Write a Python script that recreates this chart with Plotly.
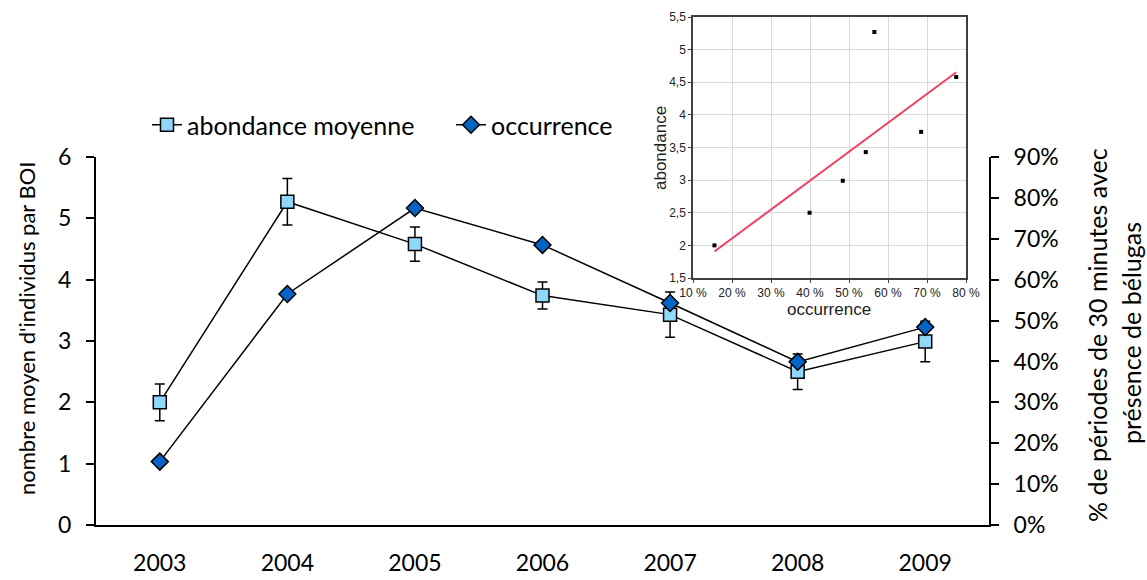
import numpy as np
import plotly.graph_objects as go

# ---- data -------------------------------------------------------------
years = [2003, 2004, 2005, 2006, 2007, 2008, 2009]
year_labels = [str(y) for y in years]
abondance = [2.00, 5.27, 4.58, 3.74, 3.43, 2.50, 2.99]          # nombre moyen d'individus par BOI
abondance_err = [0.30, 0.38, 0.28, 0.22, 0.37, 0.29, 0.33]
occurrence = [0.155, 0.565, 0.775, 0.685, 0.543, 0.399, 0.484]  # fraction of 30-min periods

left_ticks = [0, 1, 2, 3, 4, 5, 6]
right_ticks = [0.0, 0.1, 0.2, 0.3, 0.4, 0.5, 0.6, 0.7, 0.8, 0.9]
right_tick_labels = ["0%", "10%", "20%", "30%", "40%", "50%", "60%", "70%", "80%", "90%"]

inset_x_ticks = [10, 20, 30, 40, 50, 60, 70, 80]
inset_x_labels = ["10 %", "20 %", "30 %", "40 %", "50 %", "60 %", "70 %", "80 %"]
inset_y_ticks = [1.5, 2, 2.5, 3, 3.5, 4, 4.5, 5, 5.5]
inset_y_labels = ["1,5", "2", "2,5", "3", "3,5", "4", "4,5", "5", "5,5"]

# ---- layout geometry --------------------------------------------------
W, H = 1147, 580
def px_x(v):
    return v / W
def px_y(v):
    return (H - v) / H

main_xdom = [px_x(96), px_x(989)]
main_ydom = [px_y(525), px_y(157)]
inset_xdom = [px_x(693), px_x(966)]
inset_ydom = [px_y(278), px_y(17)]

FONT = "Lato"
SQ_FILL = "#8fd8fa"
DIA_FILL = "#0563c6"

fig = go.Figure()

# abondance moyenne with error bars
fig.add_trace(go.Scatter(
    x=years, y=abondance, name="abondance moyenne",
    mode="lines+markers", xaxis="x", yaxis="y",
    line=dict(color="black", width=1.5),
    marker=dict(symbol="square", size=13, color=SQ_FILL,
                line=dict(color="black", width=1.5)),
    error_y=dict(type="data", array=abondance_err, visible=True,
                 color="black", thickness=1.5, width=5),
))

# occurrence on the right-hand axis
fig.add_trace(go.Scatter(
    x=years, y=occurrence, name="occurrence",
    mode="lines+markers", xaxis="x", yaxis="y2",
    line=dict(color="black", width=1.5),
    marker=dict(symbol="diamond", size=13, color=DIA_FILL,
                line=dict(color="black", width=1.5)),
))

# inset: abondance vs occurrence with least-squares line
occ_pct = np.array(occurrence) * 100
abd = np.array(abondance)
slope, intercept = np.polyfit(occ_pct, abd, 1)
fit_x = np.array([occ_pct.min(), occ_pct.max()])
fit_y = slope * fit_x + intercept

fig.add_trace(go.Scatter(
    x=fit_x, y=fit_y, mode="lines", xaxis="x4", yaxis="y5",
    line=dict(color="#f0405f", width=2), showlegend=False, hoverinfo="skip",
))
fig.add_trace(go.Scatter(
    x=occ_pct, y=abd, mode="markers", xaxis="x4", yaxis="y5",
    marker=dict(symbol="square", size=4, color="black"), showlegend=False,
))

axis_font = dict(family=FONT, size=23, color="black")
boundaries = [y - 0.5 for y in years] + [years[-1] + 0.5]
xr = [years[0] - 0.5, years[-1] + 0.5]

common_y = dict(domain=main_ydom, showgrid=False, zeroline=False, automargin=False,
                linecolor="black", linewidth=2, tickcolor="black", tickwidth=1.5,
                ticklen=8)

fig.update_layout(
    width=W, height=H,
    margin=dict(l=0, r=0, t=0, b=0, pad=0, autoexpand=False),
    paper_bgcolor="white", plot_bgcolor="white",
    font=dict(family=FONT, color="black"),
    showlegend=True,
    legend=dict(orientation="h", x=px_x(147), y=px_y(125), xanchor="left", yanchor="middle",
                font=dict(family=FONT, size=25, color="black"),
                bgcolor="rgba(0,0,0,0)", itemwidth=30,
                entrywidth=259, entrywidthmode="pixels"),
    # category labels (centred) on the main x-axis
    xaxis=dict(domain=main_xdom, range=xr, anchor="y", automargin=False,
               tickmode="array", tickvals=years, ticktext=year_labels,
               ticks="", showgrid=False, zeroline=False,
               showline=True, linecolor="black", linewidth=2,
               tickfont=axis_font, ticklabelstandoff=16),
    # boundary ticks, drawn across the axis line
    xaxis2=dict(domain=main_xdom, range=xr, overlaying="x", anchor="y", side="bottom",
                automargin=False,
                tickmode="array", tickvals=boundaries, showticklabels=False,
                ticks="outside", ticklen=8, tickwidth=1.5, tickcolor="black",
                showgrid=False, zeroline=False, showline=False),
    xaxis3=dict(domain=main_xdom, range=xr, overlaying="x", anchor="y", side="bottom",
                automargin=False,
                tickmode="array", tickvals=boundaries, showticklabels=False,
                ticks="inside", ticklen=8, tickwidth=1.5, tickcolor="black",
                showgrid=False, zeroline=False, showline=False),
    yaxis=dict(**common_y, range=[0, 6], anchor="x", side="left",
               tickmode="array", tickvals=left_ticks, ticks="outside",
               showline=True, tickfont=axis_font, ticklabelstandoff=10),
    yaxis2=dict(**common_y, range=[0, 0.9], anchor="x", side="right", overlaying="y",
                tickmode="array", tickvals=right_ticks, ticktext=right_tick_labels,
                ticks="outside", showline=True, tickfont=axis_font, ticklabelstandoff=10),
    yaxis3=dict(**common_y, range=[0, 6], anchor="x", side="left", overlaying="y",
                tickmode="array", tickvals=left_ticks, ticks="inside",
                showline=False, showticklabels=False),
    yaxis4=dict(**common_y, range=[0, 0.9], anchor="x", side="right", overlaying="y",
                tickmode="array", tickvals=right_ticks, ticks="inside",
                showline=False, showticklabels=False),
    # inset scatter
    xaxis4=dict(domain=inset_xdom, range=[10, 80], anchor="y5", automargin=False,
                tickmode="array", tickvals=inset_x_ticks, ticktext=inset_x_labels,
                showgrid=True, gridcolor="#d9d9d9", gridwidth=1, zeroline=False,
                showline=True, linecolor="#404040", linewidth=1.5, mirror=True,
                ticks="outside", ticklen=3, tickcolor="#404040",
                tickfont=dict(family="Liberation Sans", size=12, color="#222222")),
    yaxis5=dict(domain=inset_ydom, range=[1.5, 5.5], anchor="x4", automargin=False,
                tickmode="array", tickvals=inset_y_ticks, ticktext=inset_y_labels,
                showgrid=True, gridcolor="#d9d9d9", gridwidth=1, zeroline=False,
                showline=True, linecolor="#404040", linewidth=1.5, mirror=True,
                ticks="outside", ticklen=3, tickcolor="#404040",
                tickfont=dict(family="Liberation Sans", size=12, color="#222222")),
)

# axis titles
fig.add_annotation(text="nombre moyen d'individus par BOI", xref="paper", yref="paper",
                   x=px_x(26), y=px_y(328), textangle=-90, showarrow=False,
                   xanchor="center", yanchor="middle",
                   font=dict(family=FONT, size=22, color="black"))
right_title_font = dict(family=FONT, size=25, color="black")
fig.add_annotation(text="% de périodes de 30 minutes avec", xref="paper", yref="paper",
                   x=px_x(1097), y=px_y(335), textangle=-90, showarrow=False,
                   xanchor="center", yanchor="middle", font=right_title_font)
fig.add_annotation(text="présence de bélugas", xref="paper", yref="paper",
                   x=px_x(1131), y=px_y(333), textangle=-90, showarrow=False,
                   xanchor="center", yanchor="middle", font=right_title_font)

inset_title_font = dict(family="Liberation Sans", size=17, color="#222222")
fig.add_annotation(text="abondance", xref="paper", yref="paper",
                   x=px_x(661), y=px_y(148), textangle=-90, showarrow=False,
                   xanchor="center", yanchor="middle", font=inset_title_font)
fig.add_annotation(text="occurrence", xref="paper", yref="paper",
                   x=px_x(829), y=px_y(309), showarrow=False,
                   xanchor="center", yanchor="middle", font=inset_title_font)

fig.write_html("out.html")
